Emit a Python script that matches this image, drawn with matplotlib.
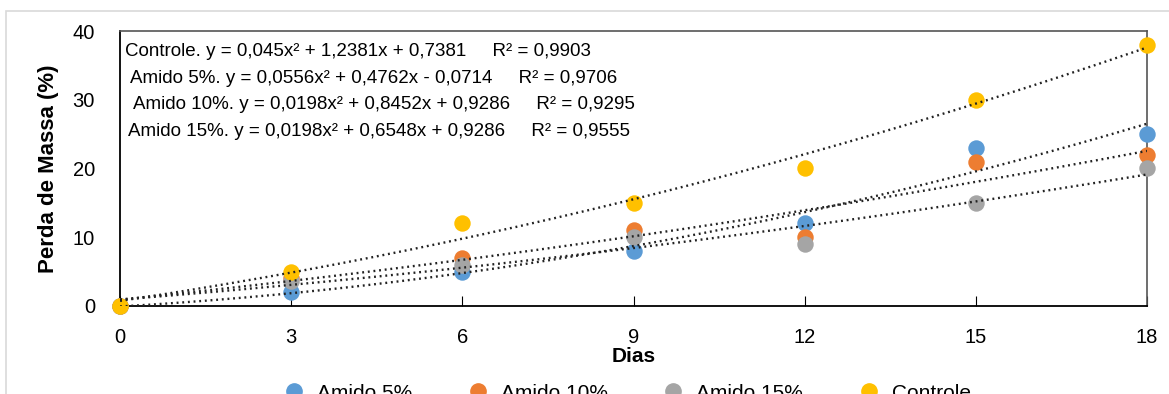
import numpy as np
import matplotlib.pyplot as plt
from matplotlib.patches import Rectangle
from matplotlib.lines import Line2D

plt.rcParams['font.family'] = ['Liberation Sans Narrow', 'Liberation Sans', 'DejaVu Sans']

# Data
dias = [0, 3, 6, 9, 12, 15, 18]
series = ['Amido 5%', 'Amido 10%', 'Amido 15%', 'Controle']
amido5 = [0, 2, 5, 8, 12, 23, 25]
amido10 = [0, 4, 7, 11, 10, 21, 22]
amido15 = [0, 3.6, 6, 10, 9, 15, 20]
controle = [0, 5, 12, 15, 20, 30, 38]
colors = ['#5B9BD5', '#ED7D31', '#A5A5A5', '#FFC000']

# Trendline coefficients (a, b, c) and R² as printed on the chart
coef_controle = [0.045, 1.2381, 0.7381]
coef_amido5 = [0.0556, 0.4762, -0.0714]
coef_amido10 = [0.0198, 0.8452, 0.9286]
coef_amido15 = [0.0198, 0.6548, 0.9286]
r2 = {'Controle': 0.9903, 'Amido 5%': 0.9706, 'Amido 10%': 0.9295, 'Amido 15%': 0.9555}

values = [amido5, amido10, amido15, controle]
coefs = {'Amido 5%': coef_amido5, 'Amido 10%': coef_amido10,
         'Amido 15%': coef_amido15, 'Controle': coef_controle}


def num(v):
    return f'{abs(v):g}'.replace('.', ',')


def equation(name):
    a, b, c = coefs[name]
    sign = '+' if c >= 0 else '-'
    return (f'{name}. y = {num(a)}x² + {num(b)}x {sign} {num(c)}'
            f'     R² = {num(r2[name])}')


fig = plt.figure(figsize=(11.69, 3.94), dpi=100)
ax = fig.add_axes([0.1027, 0.2234, 0.8785, 0.6979])

for name, vals, col in zip(series, values, colors):
    ax.scatter(dias, vals, s=140, color=col, zorder=3, linewidths=0,
               clip_on=False)

x = np.linspace(0, 18, 200)
for name in series:
    a, b, c = coefs[name]
    ax.plot(x, a * x**2 + b * x + c, color='#222222', lw=1.7,
            linestyle=(0, (0.8, 1.6)), zorder=4)

ax.set_xlim(0, 18)
ax.set_ylim(0, 40)
ax.set_xticks(range(0, 19, 3))
ax.set_yticks(range(0, 41, 10))
ax.tick_params(axis='x', direction='in', length=7, labelsize=14.5, pad=16,
               colors='black')
ax.tick_params(axis='y', length=0, labelsize=14.5, pad=18)
for side in ['left', 'bottom']:
    ax.spines[side].set_color('black')
    ax.spines[side].set_linewidth(1.3)
for side in ['top', 'right']:
    ax.spines[side].set_color('#555555')
    ax.spines[side].set_linewidth(1.2)

ax.set_xlabel('Dias', fontsize=15, fontweight='bold', labelpad=0)
ax.set_ylabel('Perda de Massa (%)', fontsize=16, fontweight='bold', labelpad=10)

# Equation block
eq_order = ['Controle', 'Amido 5%', 'Amido 10%', 'Amido 15%']
eq_x = [0.005, 0.01, 0.013, 0.008]
for i, name in enumerate(eq_order):
    ax.text(eq_x[i], 0.925 - i * 0.097, equation(name), transform=ax.transAxes,
            fontsize=13.5, va='center', ha='left')

handles = [Line2D([], [], marker='o', ls='', color=c, markersize=11) for c in colors]
fig.legend(handles, series, loc='center', bbox_to_anchor=(0.532, 0.002),
           ncol=4, frameon=False, fontsize=15, columnspacing=2.15,
           handletextpad=0.1)

fig.patches.append(Rectangle((6 / 1169, -0.1), 1.2, 1.1 - 11 / 394,
                             transform=fig.transFigure, fill=False,
                             edgecolor='#D9D9D9', lw=1.2))

fig.savefig('out.png', dpi=100)
